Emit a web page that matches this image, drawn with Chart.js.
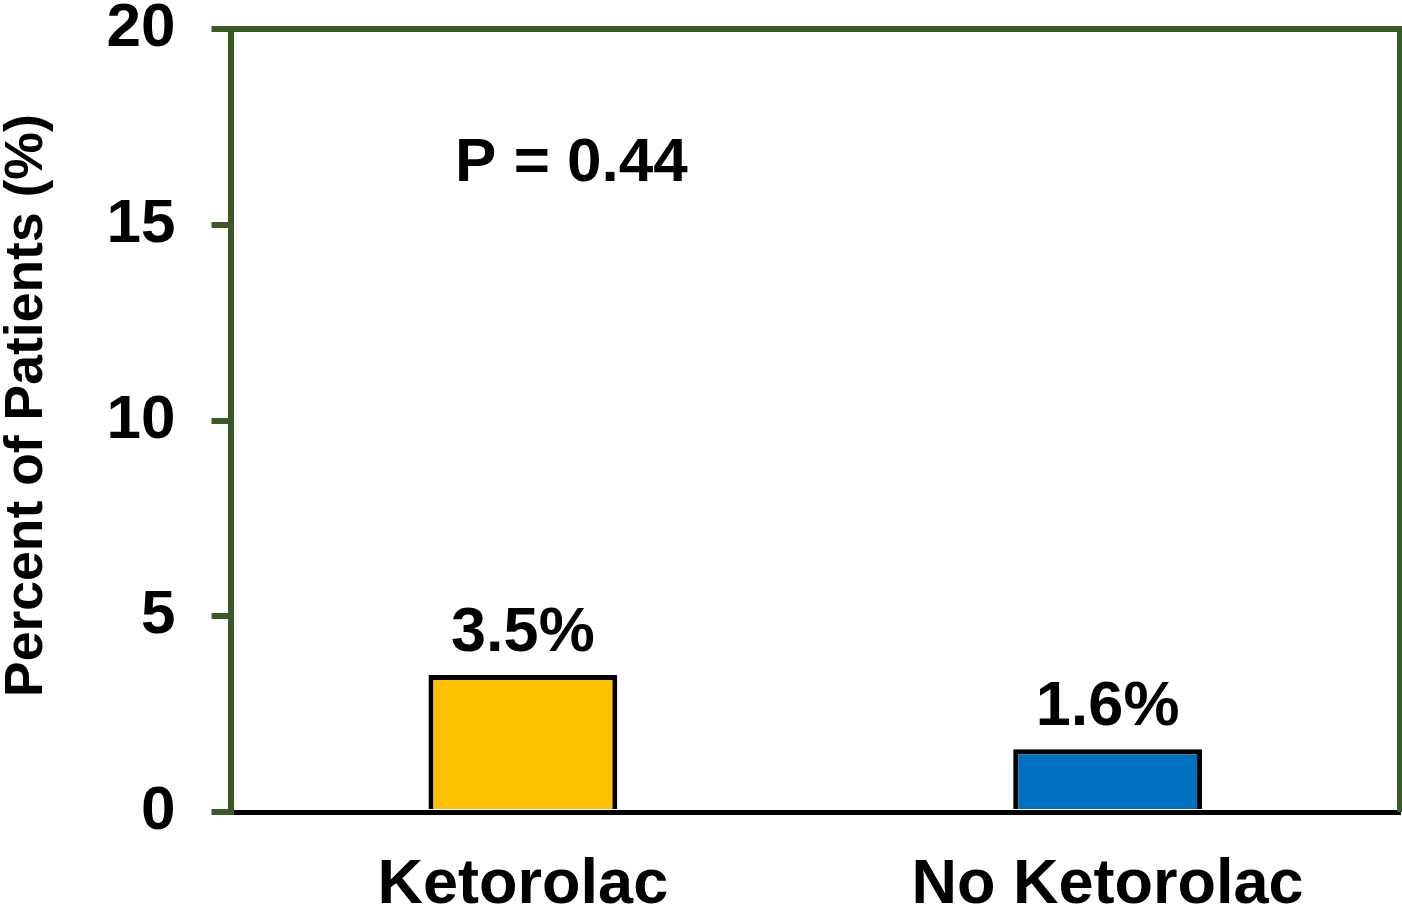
<!DOCTYPE html>
<html>
<head>
<meta charset="utf-8">
<script src="https://cdn.jsdelivr.net/npm/chart.js@4.4.1/dist/chart.umd.min.js"></script>
<style>
  html, body { margin: 0; padding: 0; background: #ffffff; }
  #wrap { width: 1402px; height: 913px; position: relative; }
</style>
</head>
<body>
<div id="wrap"><canvas id="c" width="1402" height="913"></canvas></div>
<script>
const categories = ['Ketorolac', 'No Ketorolac'];
const percentValues = [3.5, 1.6];
const valueLabels = ['3.5%', '1.6%'];
const barColors = ['#FFC000', '#0070C0'];
const yTicks = [0, 5, 10, 15, 20];
const yTitle = '  Percent of Patients (%)';
const pValueText = 'P = 0.44';

const FONT = '"Liberation Sans", Arial, sans-serif';
const FRAME = '#3A5A25';

const framePlugin = {
  id: 'frame',
  afterDatasetsDraw(chart) {
    const { ctx, chartArea: a } = chart;
    ctx.save();
    ctx.strokeStyle = FRAME;
    ctx.lineWidth = 6;
    ctx.beginPath();
    ctx.moveTo(a.left - 3, a.top);
    ctx.lineTo(a.right, a.top);
    ctx.lineTo(a.right, a.bottom);
    ctx.stroke();
    ctx.restore();
  }
};

const labelPlugin = {
  id: 'valueLabels',
  afterDatasetsDraw(chart) {
    const { ctx } = chart;
    const meta = chart.getDatasetMeta(0);
    ctx.save();
    ctx.fillStyle = '#000';
    ctx.font = 'bold 63px ' + FONT;
    ctx.textAlign = 'center';
    ctx.textBaseline = 'alphabetic';
    meta.data.forEach((bar, i) => {
      ctx.fillText(valueLabels[i], bar.x, bar.y - 24);
    });
    const a = chart.chartArea;
    const x = a.left + (a.right - a.left) * 0.2915;
    const y = chart.scales.y.getPixelForValue(16.12);
    ctx.font = 'bold 62px ' + FONT;
    ctx.fillText(pValueText, x, y);
    ctx.restore();
  }
};

new Chart(document.getElementById('c'), {
  type: 'bar',
  data: {
    labels: categories,
    datasets: [{
      data: percentValues,
      backgroundColor: barColors,
      borderColor: '#000000',
      borderWidth: 5,
      borderSkipped: 'bottom',
      categoryPercentage: 1.0,
      barPercentage: 0.323
    }]
  },
  options: {
    responsive: false,
    animation: false,
    devicePixelRatio: 1,
    layout: { padding: { top: 29, right: 2, left: 0, bottom: 0 } },
    plugins: { legend: { display: false }, tooltip: { enabled: false } },
    scales: {
      x: {
        grid: { display: false, drawTicks: false },
        border: { display: true, color: '#000000', width: 5 },
        ticks: {
          color: '#000',
          font: { family: FONT, size: 63, weight: 'bold', lineHeight: 1 },
          padding: 42,
          maxRotation: 0
        },
        afterFit(scale) { scale.height = 101; }
      },
      y: {
        min: 0,
        max: 20,
        afterBuildTicks(scale) { scale.ticks = yTicks.map(v => ({ value: v })); },
        grid: {
          display: true,
          drawOnChartArea: false,
          drawTicks: true,
          tickLength: 19,
          color: FRAME,
          lineWidth: 6
        },
        border: { display: true, color: FRAME, width: 6 },
        ticks: {
          color: '#000',
          font: { family: FONT, size: 62, weight: 'bold', lineHeight: 0.9 },
          padding: 36
        },
        title: {
          display: true,
          text: yTitle,
          color: '#000',
          font: { family: FONT, size: 53.5, weight: 'bold', lineHeight: 1 },
          padding: 0
        },
        afterFit(scale) {
          scale.width = 230.5;
          scale.paddingTop = 0;
          scale.paddingBottom = 0;
        }
      }
    }
  },
  plugins: [framePlugin, labelPlugin]
});
</script>
</body>
</html>
